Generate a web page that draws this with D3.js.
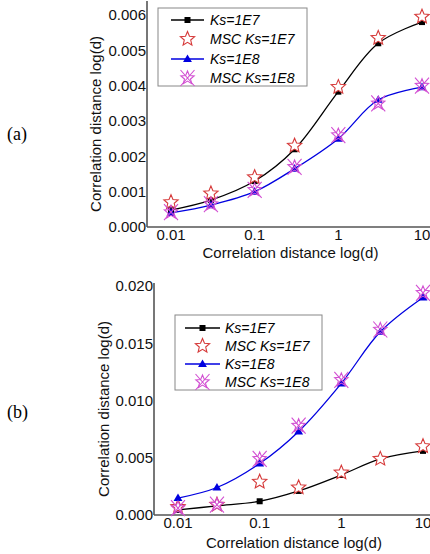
<!DOCTYPE html>
<html>
<head>
<meta charset="utf-8">
<script src="https://cdn.jsdelivr.net/npm/d3@7"></script>
<style>
  body { margin: 0; background: #fff; }
  svg { display: block; font-family: "Liberation Sans", Arial, sans-serif; }
</style>
</head>
<body>
<svg id="chart" width="430" height="554"></svg>
<script>
// x values (correlation distance)
const distances = [0.01, 0.03, 0.1, 0.3, 1, 3, 10];
const xTickValues = [0.01, 0.1, 1, 10];
const xTickLabels = ["0.01", "0.1", "1", "10"];

// panel (a)
const aKs7 = [0.00048, 0.00076, 0.0013, 0.0022, 0.00383, 0.0052, 0.0058];
const aMsc7 = [0.0007, 0.00095, 0.00141, 0.0023, 0.00396, 0.00535, 0.00595];
const aKs8 = [0.0004, 0.00062, 0.001, 0.00165, 0.0025, 0.0036, 0.00396];
const aMsc8 = [0.00042, 0.00065, 0.00105, 0.0017, 0.0026, 0.0035, 0.004];
const aYTicks = [0, 0.001, 0.002, 0.003, 0.004, 0.005, 0.006];

// panel (b)
const bKs7 = [0.00044, 0.0008, 0.0012, 0.0021, 0.0035, 0.0049, 0.0056];
const bMsc7 = [0.0007, 0.0009, 0.0029, 0.0024, 0.0037, 0.0049, 0.006];
const bKs8 = [0.00148, 0.0024, 0.0045, 0.0073, 0.0115, 0.016, 0.019];
const bMsc8 = [0.0006, 0.0009, 0.0049, 0.0078, 0.0118, 0.0162, 0.0194];
const bYTicks = [0, 0.005, 0.01, 0.015, 0.02];

const legendLabels = ["Ks=1E7", "MSC Ks=1E7", "Ks=1E8", "MSC Ks=1E8"];
const axisTitle = "Correlation distance log(d)";

const svg = d3.select("#chart");

// star path centred at 0,0
function starPath(r) {
  const pts = [];
  for (let i = 0; i < 10; i++) {
    const a = -Math.PI / 2 + i * Math.PI / 5;
    const rr = i % 2 === 0 ? r : r * 0.45;
    pts.push([rr * Math.cos(a), rr * Math.sin(a)]);
  }
  return "M" + pts.map(p => p.join(",")).join("L") + "Z";
}

function drawMarker(g, type, x, y) {
  if (type === "square") {
    g.append("rect").attr("x", x - 3).attr("y", y - 3).attr("width", 6).attr("height", 6).attr("fill", "#000");
  } else if (type === "triangle") {
    g.append("path").attr("d", d3.symbol(d3.symbolTriangle, 34)()).attr("transform", `translate(${x},${y + 0.5})`).attr("fill", "#0000e0");
  } else if (type === "star") {
    g.append("path").attr("d", starPath(7.5)).attr("transform", `translate(${x},${y})`)
      .attr("fill", "#fff").attr("stroke", "#d63a3a").attr("stroke-width", 1.1);
  } else if (type === "xstar") {
    const m = g.append("g").attr("transform", `translate(${x},${y})`)
      .attr("fill", "none").attr("stroke", "#d24fd2").attr("stroke-width", 1.1);
    m.append("path").attr("d", starPath(7));
    m.append("path").attr("d", "M-7,-8L7,8M7,-8L-7,8");
  }
}

const panels = [
  {
    label: "(a)", labelY: 140,
    left: 147, right: 430, top: 1, bottom: 227,
    x0: 171, x10: 422, y0: 227, yMax: 15, yMaxVal: 0.006,
    yTicks: aYTicks, tickLabelY: 240, titleY: 258, yTitleX: 101,
    series: [aKs7, aMsc7, aKs8, aMsc8],
    legend: { x: 158, y: 8, w: 149, h: 78, rows: [20, 39, 59, 78], lx0: 171, lx1: 204, tx: 210 }
  },
  {
    label: "(b)", labelY: 418,
    left: 154, right: 430, top: 283, bottom: 515,
    x0: 178, x10: 423, y0: 515, yMax: 286, yMaxVal: 0.02,
    yTicks: bYTicks, tickLabelY: 528, titleY: 548, yTitleX: 109,
    series: [bKs7, bMsc7, bKs8, bMsc8],
    legend: { x: 175, y: 315, w: 147, h: 75, rows: [328, 346, 364, 382], lx0: 185, lx1: 220, tx: 225 }
  }
];

const styles = [
  { line: "#000", marker: "square" },
  { line: null, marker: "star" },
  { line: "#0000e0", marker: "triangle" },
  { line: null, marker: "xstar" }
];

panels.forEach(p => {
  const g = svg.append("g");

  const x = d3.scaleLog().domain([0.01, 10]).range([p.x0, p.x10]);
  const y = d3.scaleLinear().domain([0, p.yMaxVal]).range([p.y0, p.yMax]);

  // axis lines
  g.append("line").attr("x1", p.left).attr("x2", p.right).attr("y1", p.bottom).attr("y2", p.bottom)
    .attr("stroke", "#555").attr("stroke-width", 1.6);
  g.append("line").attr("x1", p.left).attr("x2", p.left).attr("y1", p.top).attr("y2", p.bottom)
    .attr("stroke", "#555").attr("stroke-width", 1.6);

  // x tick labels
  g.selectAll(".xt").data(xTickValues).join("text")
    .attr("x", d => x(d)).attr("y", p.tickLabelY)
    .attr("text-anchor", "middle").attr("font-size", 15).attr("fill", "#111")
    .text((d, i) => xTickLabels[i]);

  // y tick labels
  g.selectAll(".yt").data(p.yTicks).join("text")
    .attr("x", p.left - 1).attr("y", d => y(d)).attr("dy", "0.36em")
    .attr("text-anchor", "end").attr("font-size", 15).attr("fill", "#111")
    .text(d => d3.format(".3f")(d));

  // titles
  g.append("text").attr("x", (p.left + p.right) / 2 + 2).attr("y", p.titleY)
    .attr("text-anchor", "middle").attr("font-size", 15).attr("fill", "#111").text(axisTitle);
  g.append("text").attr("transform", `translate(${p.yTitleX},${(p.top + p.bottom) / 2 + 10}) rotate(-90)`)
    .attr("text-anchor", "middle").attr("font-size", 15).attr("fill", "#111").text(axisTitle);
  g.append("text").attr("x", 7).attr("y", p.labelY)
    .attr("font-family", "Liberation Serif, Times New Roman, serif").attr("font-size", 18).attr("fill", "#000")
    .text(p.label);

  const line = d3.line().x(d => x(d[0])).y(d => y(d[1])).curve(d3.curveCatmullRom.alpha(0.5));

  // lines first
  p.series.forEach((vals, si) => {
    const st = styles[si];
    if (!st.line) return;
    g.append("path").datum(distances.map((d, i) => [d, vals[i]]))
      .attr("d", line).attr("fill", "none").attr("stroke", st.line).attr("stroke-width", 1.3);
  });
  // markers
  p.series.forEach((vals, si) => {
    const st = styles[si];
    distances.forEach((d, i) => drawMarker(g, st.marker, x(d), y(vals[i])));
  });

  // legend
  const L = p.legend;
  g.append("rect").attr("x", L.x).attr("y", L.y).attr("width", L.w).attr("height", L.h)
    .attr("fill", "#fff").attr("stroke", "#888").attr("stroke-width", 1);
  legendLabels.forEach((lab, i) => {
    const st = styles[i];
    const ry = L.rows[i];
    const cx = (L.lx0 + L.lx1) / 2;
    if (st.line) {
      g.append("line").attr("x1", L.lx0).attr("x2", L.lx1).attr("y1", ry).attr("y2", ry)
        .attr("stroke", st.line).attr("stroke-width", 1.3);
    }
    drawMarker(g, st.marker, cx, ry);
    g.append("text").attr("x", L.tx).attr("y", ry).attr("dy", "0.36em")
      .attr("font-size", 14).attr("font-style", "italic").attr("fill", "#000").text(lab);
  });
});
</script>
</body>
</html>
